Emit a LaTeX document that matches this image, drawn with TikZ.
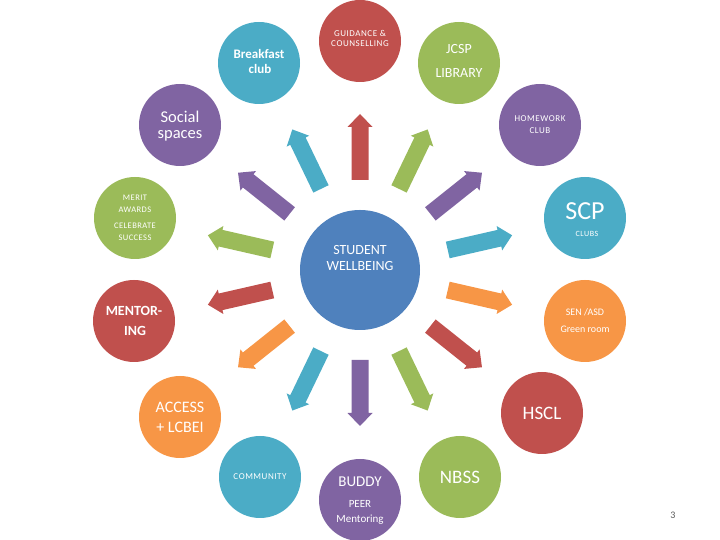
\documentclass[tikz,border=0pt]{standalone}
\usepackage{fontspec}
\setmainfont{Carlito}
\definecolor{cred}{HTML}{C0504D}
\definecolor{cgreen}{HTML}{9BBB59}
\definecolor{cpurple}{HTML}{8064A2}
\definecolor{cteal}{HTML}{4BACC6}
\definecolor{corange}{HTML}{F79646}
\definecolor{cblue}{HTML}{4F81BD}
\definecolor{cgray}{HTML}{595959}
\newcommand{\fs}[1]{\fontsize{#1}{#1}\selectfont}
\begin{document}
\begin{tikzpicture}[x=1pt,y=1pt,
  bub/.style={circle, minimum size=82pt, inner sep=0pt, draw=none},
  lbl/.style={text=white, inner sep=0pt, anchor=center},
  tiny/.style={lbl, font=\fs{9}\addfontfeature{LetterSpace=6}},
  ray/.style={draw=none}]
\useasboundingbox (0,0) rectangle (720,540);
% centre
\node[circle, fill=cblue, minimum size=120pt, inner sep=0pt] (sw) at (360,270) {};
\node[lbl, font=\fs{14}] (sw1) at (360,290) {STUDENT};
\node[lbl, font=\fs{14}] (sw2) at (360,274) {WELLBEING};
% radiating arrows
\foreach \k/\col in {0/cred,1/cgreen,2/cpurple,3/cteal,4/corange,5/cred,6/cgreen,7/cpurple,8/cteal,9/corange,10/cred,11/cgreen,12/cpurple,13/cteal}{
  \begin{scope}[shift={(sw.center)}, rotate={90-\k*360/14}]
    \fill[\col] (90,-8.5) -- (143,-8.5) -- (143,-12.5) -- (156,0) -- (143,12.5) -- (143,8.5) -- (90,8.5) -- cycle;
  \end{scope}
}
% outer circles
\node[bub, fill=cred] (guid) at (360,499) {};
\node[tiny] at (360,507) {GUIDANCE \&};
\node[tiny] at (360,496) {COUNSELLING};

\node[bub, fill=cgreen] (jcsp) at (459,477) {};
\node[lbl, font=\fs{14}] at (459,491) {JCSP};
\node[lbl, font=\fs{14}] at (459,467) {LIBRARY};

\node[bub, fill=cpurple] (hw) at (540,415) {};
\node[tiny] at (540,421) {HOMEWORK};
\node[tiny] at (540,409) {CLUB};

\node[bub, fill=cteal] (scp) at (585,322) {};
\node[lbl, font=\fs{26}] at (585,329) {SCP};
\node[lbl, font=\fs{8}\addfontfeature{LetterSpace=6}] at (587,306) {CLUBS};

\node[bub, fill=corange] (sen) at (585,219) {};
\node[lbl, font=\fs{10}] at (585,228) {SEN /ASD};
\node[lbl, font=\fs{10}] at (585,211) {Green room};

\node[bub, fill=cred] (hscl) at (542,127) {};
\node[lbl, font=\fs{19}] at (542,127) {HSCL};

\node[bub, fill=cgreen] (nbss) at (460,63) {};
\node[lbl, font=\fs{19}] at (460,63) {NBSS};

\node[bub, fill=cpurple] (buddy) at (360,40) {};
\node[lbl, font=\fs{15}] at (360,58) {BUDDY};
\node[lbl, font=\fs{11}] at (360,36) {PEER};
\node[lbl, font=\fs{11}] at (360,20) {Mentoring};

\node[bub, fill=cteal] (comm) at (260,63) {};
\node[tiny] at (260,63) {COMMUNITY};

\node[bub, fill=corange] (access) at (180,123) {};
\node[lbl, font=\fs{16}] at (180,133) {ACCESS};
\node[lbl, font=\fs{16}] at (180,113) {+ LCBEI};

\node[bub, fill=cred] (ment) at (134,219) {};
\node[lbl, font=\fs{14}\bfseries] at (134,229) {MENTOR-};
\node[lbl, font=\fs{14}\bfseries] at (135,209) {ING};

\node[bub, fill=cgreen] (merit) at (135,322) {};
\node[lbl, font=\fs{8.5}\addfontfeature{LetterSpace=5}] at (135,342) {MERIT};
\node[lbl, font=\fs{8.5}\addfontfeature{LetterSpace=5}] at (135,330) {AWARDS};
\node[lbl, font=\fs{8.5}\addfontfeature{LetterSpace=5}] at (135,314) {CELEBRATE};
\node[lbl, font=\fs{8.5}\addfontfeature{LetterSpace=5}] at (135,302) {SUCCESS};

\node[bub, fill=cpurple] (social) at (180,415) {};
\node[lbl, font=\fs{16.5}] at (180,423) {Social};
\node[lbl, font=\fs{16.5}] at (180,404) {spaces};

\node[bub, fill=cteal] (bfast) at (259,477) {};
\node[lbl, font=\fs{13}\bfseries] at (259,486) {Breakfast};
\node[lbl, font=\fs{13}\bfseries] at (260,471) {club};

\node[inner sep=0pt, text=cgray, font=\fs{10}] (pg) at (673,25) {3};
\end{tikzpicture}
\end{document}
